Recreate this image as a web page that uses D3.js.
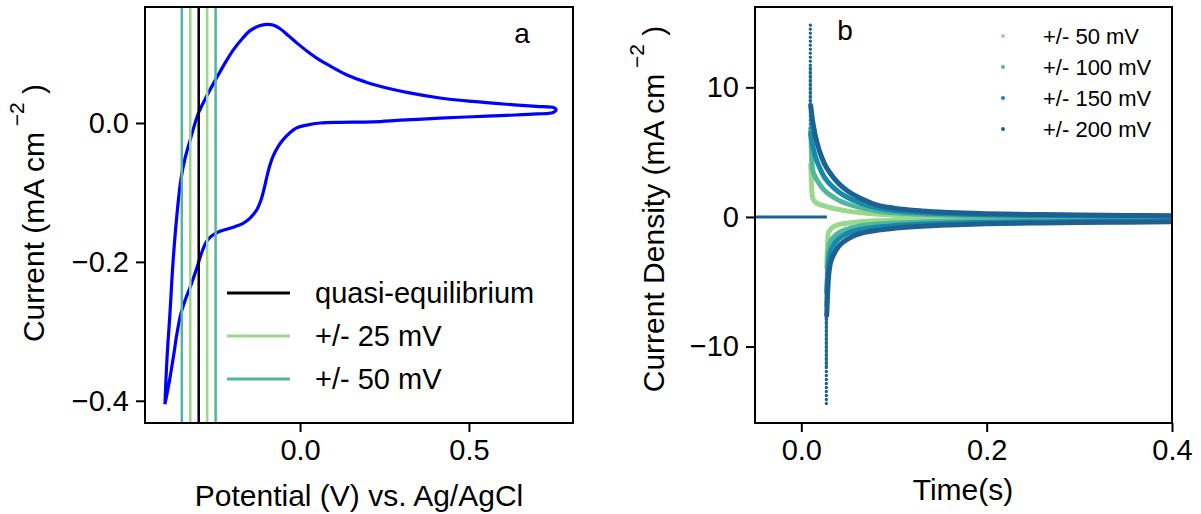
<!DOCTYPE html>
<html>
<head>
<meta charset="utf-8">
<script src="https://cdn.jsdelivr.net/npm/d3@7"></script>
<style>
  body { margin: 0; background: #fff; }
  text { font-family: "Liberation Sans", Arial, sans-serif; }
</style>
</head>
<body>
<svg id="chart" width="1201" height="514"></svg>
<script>
// ---------- panel a : cyclic voltammogram ----------
// forward (anodic) sweep then reverse sweep, potential in V, current in mA cm^-2
const cvE = [-0.400, -0.394, -0.385, -0.376, -0.365, -0.353, -0.340, -0.325, -0.301, -0.275, -0.247, -0.220, -0.198, -0.170, -0.148, -0.120, -0.099, -0.080, -0.060, -0.035, -0.009, 0.030, 0.060, 0.100, 0.139, 0.200, 0.260, 0.316, 0.414, 0.510, 0.610, 0.700, 0.752, 0.758,
  0.749, 0.700, 0.610, 0.510, 0.414, 0.300, 0.216, 0.118, 0.060, 0.020, -0.010, -0.030, -0.050, -0.065, -0.080, -0.090, -0.098, -0.106, -0.115, -0.128, -0.148, -0.170, -0.186, -0.210, -0.237, -0.260, -0.276, -0.290, -0.300, -0.312, -0.325, -0.340, -0.353, -0.365, -0.375, -0.388, -0.400];
const cvI = [-0.405, -0.340, -0.273, -0.200, -0.135, -0.082, -0.050, -0.024, 0.014, 0.040, 0.065, 0.088, 0.105, 0.122, 0.133, 0.140, 0.142, 0.141, 0.136, 0.126, 0.115, 0.100, 0.090, 0.079, 0.069, 0.058, 0.050, 0.044, 0.036, 0.031, 0.027, 0.024, 0.022, 0.019,
  0.015, 0.013, 0.011, 0.009, 0.007, 0.004, 0.0015, 0.001, 0.000, -0.003, -0.007, -0.014, -0.024, -0.034, -0.048, -0.062, -0.077, -0.094, -0.110, -0.125, -0.137, -0.145, -0.148, -0.152, -0.156, -0.162, -0.170, -0.185, -0.200, -0.218, -0.236, -0.255, -0.275, -0.305, -0.337, -0.375, -0.405];

// marker potentials
const qeE = -0.30;
const step25 = [-0.325, -0.275];
const step50 = [-0.35, -0.25];
const legendA = ["quasi-equilibrium", "+/- 25 mV", "+/- 50 mV"];
const colorsA = ["#000000", "#99d98c", "#52b69a"];

// ---------- panel b : chronoamperometry ----------
const seriesB = ["+/- 50 mV", "+/- 100 mV", "+/- 150 mV", "+/- 200 mV"];
const colorsB = ["#99d98c", "#52b69a", "#168aad", "#1e6091"];

const tBase = [-0.05, 0.0275];
const iBase = [0, 0];

const tPos = [0.0097, 0.0101, 0.012, 0.015, 0.02, 0.025, 0.03, 0.04, 0.05, 0.065, 0.08, 0.1, 0.13, 0.16, 0.2, 0.25, 0.3, 0.35, 0.4];
const pos50  = [4.4, 4.0, 1.5, 1.15, 0.95, 0.85, 0.75, 0.58, 0.45, 0.32, 0.22, 0.14, 0.07, 0.03, 0.0, -0.02, -0.03, -0.04, -0.04];
const pos100 = [8.0, 6.8, 3.7, 3.1, 2.5, 2.05, 1.75, 1.3, 1.0, 0.7, 0.48, 0.32, 0.2, 0.13, 0.08, 0.05, 0.03, 0.02, 0.01];
const pos150 = [11.5, 6.4, 5.6, 4.7, 3.75, 3.05, 2.6, 1.95, 1.5, 1.05, 0.72, 0.5, 0.33, 0.24, 0.17, 0.12, 0.09, 0.07, 0.06];
const pos200 = [14.8, 8.6, 7.5, 6.3, 5.0, 4.1, 3.5, 2.6, 2.0, 1.4, 0.95, 0.68, 0.46, 0.34, 0.25, 0.19, 0.15, 0.12, 0.1];

const tNeg = [0.027, 0.0274, 0.029, 0.031, 0.035, 0.04, 0.045, 0.055, 0.065, 0.08, 0.1, 0.13, 0.16, 0.2, 0.25, 0.3, 0.35, 0.4];
const neg50  = [-4.3, -3.9, -1.3, -1.0, -0.75, -0.6, -0.52, -0.42, -0.36, -0.3, -0.25, -0.21, -0.18, -0.16, -0.15, -0.14, -0.13, -0.13];
const neg100 = [-8.1, -6.8, -2.8, -2.0, -1.55, -1.25, -1.05, -0.82, -0.68, -0.56, -0.47, -0.39, -0.33, -0.29, -0.26, -0.24, -0.23, -0.22];
const neg150 = [-11.5, -5.8, -3.8, -2.85, -2.15, -1.7, -1.45, -1.12, -0.94, -0.8, -0.67, -0.55, -0.48, -0.42, -0.38, -0.35, -0.33, -0.32];
const neg200 = [-14.4, -7.6, -5.0, -3.7, -2.9, -2.3, -1.95, -1.5, -1.25, -1.05, -0.88, -0.72, -0.62, -0.53, -0.47, -0.43, -0.4, -0.38];

const posB = [pos50, pos100, pos150, pos200];
const negB = [neg50, neg100, neg150, neg200];

const svg = d3.select("#chart");
const FONT = "Liberation Sans, Arial, sans-serif";

// helper to draw the frame + ticks
function drawAxes(x, y, xTicks, yTicks, xFmt, yFmt) {
    const [x0, x1] = x.range();
    const [y0, y1] = y.range();

    svg.append("g")
        .attr("transform", `translate(0,${y0})`)
        .call(d3.axisBottom(x).tickValues(xTicks).tickFormat(d3.format(xFmt)).tickSize(9).tickSizeOuter(0).tickPadding(7))
        .call(g => g.select(".domain").remove())
        .call(g => g.selectAll("line").attr("stroke-width", 2))
        .call(g => g.selectAll("text").attr("font-size", 29).attr("font-family", FONT).attr("fill", "#000"));

    svg.append("g")
        .attr("transform", `translate(${x0},0)`)
        .call(d3.axisLeft(y).tickValues(yTicks).tickFormat(d3.format(yFmt)).tickSize(9).tickSizeOuter(0).tickPadding(7))
        .call(g => g.select(".domain").remove())
        .call(g => g.selectAll("line").attr("stroke-width", 2))
        .call(g => g.selectAll("text").attr("font-size", 29).attr("font-family", FONT).attr("fill", "#000"));

    svg.append("rect")
        .attr("x", x0).attr("y", y1)
        .attr("width", x1 - x0).attr("height", y0 - y1)
        .attr("fill", "none").attr("stroke", "#000").attr("stroke-width", 2);
}

// ================= panel a =================
const xA = d3.scaleLinear().domain([-0.459, 0.808]).range([145, 573]);
const yA = d3.scaleLinear().domain([-0.432, 0.167]).range([423, 7]);

svg.append("clipPath").attr("id", "clipA")
    .append("rect").attr("x", 145).attr("y", 7).attr("width", 428).attr("height", 416);

const gA = svg.append("g").attr("clip-path", "url(#clipA)");

const cvLine = d3.line()
    .x(d => xA(d[0])).y(d => yA(d[1]))
    .curve(d3.curveCatmullRom.alpha(0.5));

gA.append("path")
    .datum(cvE.map((e, i) => [e, cvI[i]]))
    .attr("d", cvLine)
    .attr("fill", "none")
    .attr("stroke", "#0000ff")
    .attr("stroke-width", 3.2)
    .attr("stroke-linejoin", "round");

// vertical potential markers
const vLines = [
    ...step50.map(v => ({ v, c: colorsA[2] })),
    ...step25.map(v => ({ v, c: colorsA[1] })),
    { v: qeE, c: colorsA[0] }
];
gA.selectAll("line.vmark")
    .data(vLines)
    .enter().append("line")
    .attr("class", "vmark")
    .attr("x1", d => xA(d.v)).attr("x2", d => xA(d.v))
    .attr("y1", yA.range()[1]).attr("y2", yA.range()[0])
    .attr("stroke", d => d.c)
    .attr("stroke-width", 2.5);

drawAxes(xA, yA, [0, 0.5], [-0.4, -0.2, 0], ".1f", ".1f");

// legend a
const legA = svg.append("g").selectAll("g")
    .data(legendA)
    .enter().append("g")
    .attr("transform", (d, i) => `translate(227, ${293 + i * 43})`);
legA.append("line")
    .attr("x1", 0).attr("x2", 63)
    .attr("stroke", (d, i) => colorsA[i])
    .attr("stroke-width", 3);
legA.append("text")
    .attr("x", 88).attr("dy", "0.35em")
    .attr("font-size", 29)
    .text(d => d);

svg.append("text").attr("x", 522).attr("y", 43)
    .attr("text-anchor", "middle").attr("font-size", 28).text("a");

// axis labels a
svg.append("text")
    .attr("x", 359).attr("y", 506)
    .attr("text-anchor", "middle").attr("font-size", 30)
    .text("Potential (V) vs. Ag/AgCl");

const ylabA = svg.append("text")
    .attr("transform", "translate(44,213) rotate(-90)")
    .attr("text-anchor", "middle").attr("font-size", 30);
ylabA.append("tspan").text("Current (mA cm");
ylabA.append("tspan").attr("dy", -20).attr("font-size", 21).text(" \u22122");
ylabA.append("tspan").attr("dy", 20).text(" )");

// ================= panel b =================
const xB = d3.scaleLinear().domain([-0.05, 0.4]).range([755, 1172]);
const yB = d3.scaleLinear().domain([-15.9, 16.2]).range([423, 7]);

svg.append("clipPath").attr("id", "clipB")
    .append("rect").attr("x", 755).attr("y", 7).attr("width", 417).attr("height", 416);

const gB = svg.append("g").attr("clip-path", "url(#clipB)");

const lineB = d3.line()
    .x(d => xB(d[0])).y(d => yB(d[1]))
    .curve(d3.curveMonotoneX);

seriesB.forEach((name, k) => {
    [[tPos, posB[k]], [tNeg, negB[k]]].forEach(([ts, vs]) => {
        const pts = ts.map((t, i) => [t, vs[i]]);
        // sparse points of the initial spike, shown as a dotted column
        gB.append("line")
            .attr("x1", xB(pts[0][0])).attr("x2", xB(pts[0][0]))
            .attr("y1", yB(pts[0][1])).attr("y2", yB(pts[1][1]))
            .attr("stroke", colorsB[k])
            .attr("stroke-width", 3.4)
            .attr("stroke-linecap", "round")
            .attr("stroke-dasharray", "0,4");
        gB.append("path")
            .datum(pts.slice(1))
            .attr("d", lineB)
            .attr("fill", "none")
            .attr("stroke", colorsB[k])
            .attr("stroke-width", 5)
            .attr("stroke-linecap", "round");
    });
});

gB.append("path")
    .datum(tBase.map((t, i) => [t, iBase[i]]))
    .attr("d", lineB)
    .attr("stroke", colorsB[3])
    .attr("stroke-width", 3)
    .attr("fill", "none");

drawAxes(xB, yB, [0, 0.2, 0.4], [-10, 0, 10], ".1f", "d");

svg.append("text").attr("x", 845).attr("y", 40)
    .attr("text-anchor", "middle").attr("font-size", 28).text("b");

// legend b
const legB = svg.append("g").selectAll("g")
    .data(seriesB)
    .enter().append("g")
    .attr("transform", (d, i) => `translate(1003, ${36 + i * 31})`);
legB.append("circle")
    .attr("r", 2)
    .attr("fill", (d, i) => colorsB[i]);
legB.append("text")
    .attr("x", 40).attr("dy", "0.35em")
    .attr("font-size", 22)
    .text(d => d);

svg.append("text")
    .attr("x", 963).attr("y", 500)
    .attr("text-anchor", "middle").attr("font-size", 30)
    .text("Time(s)");

const ylabB = svg.append("text")
    .attr("transform", "translate(664,209) rotate(-90)")
    .attr("text-anchor", "middle").attr("font-size", 30);
ylabB.append("tspan").text("Current Density (mA cm");
ylabB.append("tspan").attr("dy", -20).attr("font-size", 21).text(" \u22122");
ylabB.append("tspan").attr("dy", 20).text(" )");
</script>
</body>
</html>
